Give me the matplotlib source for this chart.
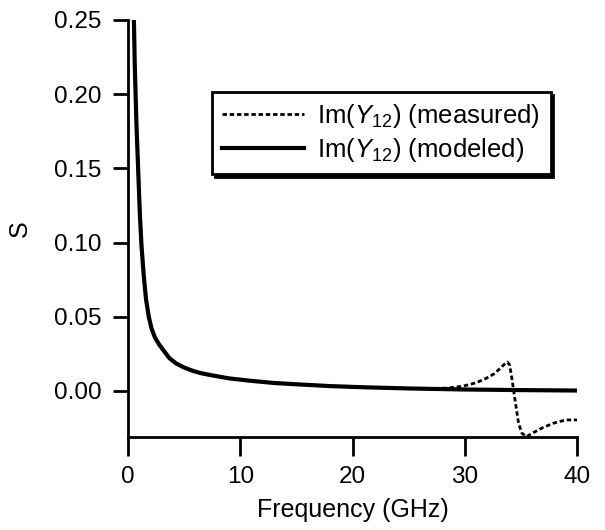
import matplotlib
matplotlib.use("Agg")
import matplotlib.pyplot as plt

plt.rcParams["font.family"] = ["Liberation Sans", "DejaVu Sans"]
plt.rcParams["mathtext.fontset"] = "custom"
plt.rcParams["mathtext.rm"] = "Liberation Sans"
plt.rcParams["mathtext.it"] = "Liberation Sans:italic"

# modeled Im(Y12)
freq_model = [0.40, 0.50, 0.6, 0.75, 0.9, 1.05, 1.2, 1.4, 1.6, 1.85, 2.1, 2.4, 2.8,
              3.2, 3.7, 4.3, 5.0, 5.8, 6.5, 7.5, 9.0, 11.0, 13.0, 15.0, 18.0,
              21.0, 25.0, 30.0, 35.0, 40.0]
im_model = [0.30, 0.26, 0.22, 0.18, 0.15, 0.12, 0.098, 0.078, 0.062, 0.050, 0.042,
            0.036, 0.031, 0.027, 0.022, 0.0185, 0.0158, 0.0135, 0.012, 0.0105,
            0.0085, 0.0068, 0.0054, 0.0045, 0.0033, 0.0025, 0.0017, 0.0010,
            0.0006, 0.0003]

# measured Im(Y12)
freq_meas = [0.40, 0.50, 0.6, 0.75, 0.9, 1.05, 1.2, 1.4, 1.6, 1.85, 2.1, 2.4, 2.8,
             3.2, 3.7, 4.3, 5.0, 5.8, 6.5, 7.5, 9.0, 11.0, 13.0, 15.0, 18.0,
             21.0, 25.0, 27.0, 28.5, 29.8, 31.0, 31.9, 32.6, 33.1, 33.5, 33.8,
             34.0, 34.2, 34.4, 34.6, 34.8, 35.1, 35.5, 36.0, 37.0, 38.0, 39.0, 40.0]
im_meas = [0.30, 0.26, 0.22, 0.18, 0.15, 0.12, 0.098, 0.078, 0.062, 0.050, 0.042,
           0.036, 0.031, 0.027, 0.022, 0.0185, 0.0158, 0.0135, 0.012, 0.0105,
           0.0085, 0.0068, 0.0054, 0.0045, 0.0033, 0.0025, 0.0017, 0.0015,
           0.0020, 0.0032, 0.0055, 0.0085, 0.0115, 0.0148, 0.0178, 0.0195,
           0.0175, 0.0085, -0.0020, -0.0120, -0.0220, -0.0285, -0.0308,
           -0.0285, -0.0245, -0.0215, -0.0195, -0.0195]

xticks = [0, 10, 20, 30, 40]
yticks = [0.00, 0.05, 0.10, 0.15, 0.20, 0.25]

fig = plt.figure(figsize=(6.05, 5.30), dpi=100)
ax = fig.add_axes([0.2116, 0.1755, 0.7421, 0.7868])

ax.plot(freq_meas, im_meas, color="black", lw=2.0, linestyle=(0, (1.6, 1.0)),
        label=r"Im($\mathit{Y}_{12}$) (measured)")
ax.plot(freq_model, im_model, color="black", lw=3.0,
        label=r"Im($\mathit{Y}_{12}$) (modeled)")

ax.set_xlim(0, 40)
ax.set_ylim(-0.031, 0.25)
ax.set_xticks(xticks)
ax.set_xticklabels([str(t) for t in xticks])
ax.set_yticks(yticks)
ax.set_yticklabels([f"{t:.2f}" for t in yticks])

for s in ["top", "right"]:
    ax.spines[s].set_visible(False)
for s in ["left", "bottom"]:
    ax.spines[s].set_linewidth(2.0)

ax.tick_params(axis="x", direction="out", length=14, width=2, labelsize=17.5, pad=7)
ax.tick_params(axis="y", direction="out", length=11, width=2, labelsize=17.5, pad=8)

ax.set_xlabel("Frequency (GHz)", fontsize=18, labelpad=7)
ax.set_ylabel("S", fontsize=18, labelpad=16)

leg = ax.legend(loc="upper left", bbox_to_anchor=(0.187, 0.827), borderaxespad=0,
                fontsize=18.5, frameon=True, fancybox=False, handlelength=3.2,
                handletextpad=0.5, labelspacing=0.2, borderpad=0.4,
                shadow={"color": "black", "alpha": 1.0})
leg.get_frame().set_edgecolor("black")
leg.get_frame().set_linewidth(2.0)
leg.get_frame().set_alpha(1.0)

fig.savefig("out.png", dpi=100)
